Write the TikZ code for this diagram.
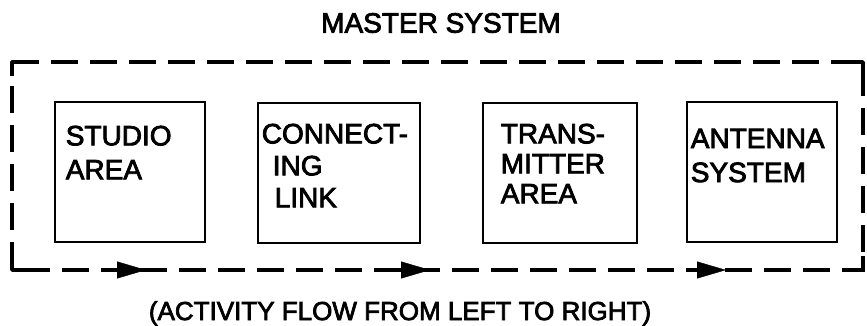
\documentclass[tikz,border=0pt]{standalone}
\usepackage{fontspec}
\setmainfont{Liberation Sans}
\newfontfamily\heavysans{Liberation Sans}[FakeBold=2.8]
\usetikzlibrary{arrows.meta,decorations.markings,positioning}

\tikzset{
  area/.style={draw,line width=2.8pt,inner sep=0pt,minimum height=140pt},
  areatext/.style={anchor=north west,inner sep=0pt,align=left,font=\fontsize{28}{34}\heavysans},
  frame/.style={line width=3.8pt,dash pattern=on 27pt off 12pt},
  corner/.style={line width=3.8pt,line join=round},
  flow/.style={decoration={markings,
      mark=at position 134pt with {\arrow{Triangle[length=29pt,width=17pt]}},
      mark=at position 418pt with {\arrow{Triangle[length=29pt,width=17pt]}},
      mark=at position 714pt with {\arrow{Triangle[length=29pt,width=17pt]}}},
    postaction=decorate}
}

\begin{document}
\begin{tikzpicture}[x=1pt,y=-1pt]
\useasboundingbox (0,0) rectangle (867,326);

% title
\node[font=\fontsize{28}{34}\heavysans] (title) at (441,23) {MASTER SYSTEM};

% the four areas
\node[area,minimum width=150pt] (studio) at (130,172) {};
\node[area,minimum width=162pt] (link) at (339,173) {};
\node[area,minimum width=154pt] (xmtr) at (560,173) {};
\node[area,minimum width=150pt] (ant) at (762,172) {};

\node[areatext,xshift=12pt,yshift=-25pt] (studiotxt) at (studio.north west) {STUDIO\\AREA};
\node[areatext,xshift=5pt,yshift=-22pt,font=\fontsize{28}{32}\heavysans] (linktxt) at (link.north west)
  {CONNECT-\\\hspace{11pt}ING\\\hspace{13pt}LINK};
\node[areatext,xshift=19pt,yshift=-22pt,font=\fontsize{28}{30}\heavysans] (xmtrtxt) at (xmtr.north west)
  {TRANS-\\MITTER\\AREA};
\node[areatext,xshift=5pt,yshift=-28pt] (anttxt) at (ant.north west) {ANTENNA\\SYSTEM};

% master system frame
\coordinate (nw) at (12,62);
\coordinate (ne) at (863,62);
\coordinate (se) at (863,270);
\coordinate (sw) at (12,270);
\draw[frame] (nw) -- (ne) -- (se) -- (sw) -- cycle;
\draw[corner] ([yshift=-14pt]nw) -- (nw) -- ([xshift=14pt]nw);
\draw[corner] ([xshift=-14pt]ne) -- (ne) -- ([yshift=-14pt]ne);
\draw[corner] ([yshift=14pt]se) -- (se) -- ([xshift=-14pt]se);
\draw[corner] ([xshift=14pt]sw) -- (sw) -- ([yshift=14pt]sw);
\path[flow] (sw) -- (se);

\node[anchor=base,font=\fontsize{26}{30}\heavysans] (note) at (400,320)
  {(ACTIVITY FLOW FROM LEFT TO RIGHT)};
\end{tikzpicture}
\end{document}
